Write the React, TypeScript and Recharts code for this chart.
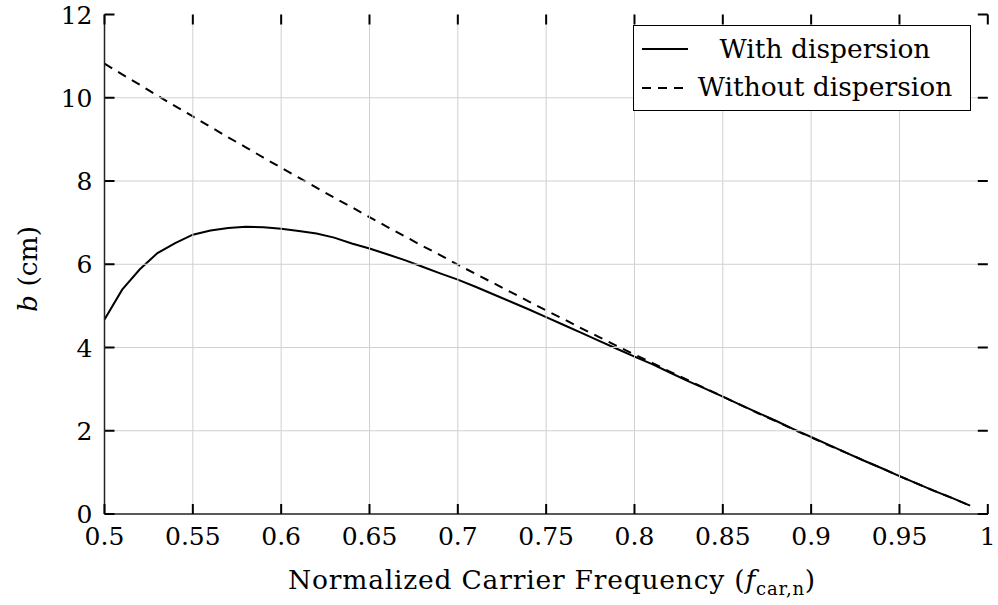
import React from 'react';
import {
  LineChart,
  Line,
  XAxis,
  YAxis,
} from 'recharts';

const freq = [
  0.5, 0.51, 0.52, 0.53, 0.54, 0.55, 0.56, 0.57, 0.58, 0.59,
  0.6, 0.61, 0.62, 0.63, 0.64, 0.65, 0.66, 0.67, 0.68, 0.69,
  0.7, 0.71, 0.72, 0.73, 0.74, 0.75, 0.76, 0.77, 0.78, 0.79,
  0.8, 0.81, 0.82, 0.83, 0.84, 0.85, 0.86, 0.87, 0.88, 0.89,
  0.9, 0.91, 0.92, 0.93, 0.94, 0.95, 0.96, 0.97, 0.98, 0.99,
];

const withDispersion = [
  4.67, 5.39, 5.88, 6.27, 6.51, 6.71, 6.81, 6.87, 6.9, 6.89,
  6.85, 6.8, 6.74, 6.64, 6.5, 6.38, 6.24, 6.1, 5.94, 5.78,
  5.63, 5.46, 5.28, 5.1, 4.92, 4.73, 4.54, 4.35, 4.16, 3.97,
  3.78, 3.6, 3.4, 3.2, 3.01, 2.82, 2.62, 2.43, 2.24, 2.04,
  1.85, 1.66, 1.47, 1.28, 1.1, 0.91, 0.73, 0.55, 0.38, 0.2,
];

const withoutDispersion = [
  10.82, 10.56, 10.31, 10.05, 9.8, 9.55, 9.3, 9.05, 8.81, 8.56,
  8.32, 8.08, 7.84, 7.6, 7.37, 7.13, 6.9, 6.67, 6.44, 6.22,
  5.99, 5.77, 5.55, 5.33, 5.11, 4.89, 4.68, 4.46, 4.25, 4.04,
  3.83, 3.63, 3.42, 3.22, 3.02, 2.82, 2.62, 2.42, 2.23, 2.03,
  1.84, 1.65, 1.47, 1.28, 1.1, 0.91, 0.73, 0.55, 0.38, 0.2,
];

const xTicks = [0.5, 0.55, 0.6, 0.65, 0.7, 0.75, 0.8, 0.85, 0.9, 0.95, 1];
const xTickLabels = ['0.5', '0.55', '0.6', '0.65', '0.7', '0.75', '0.8', '0.85', '0.9', '0.95', '1'];
const yTicks = [0, 2, 4, 6, 8, 10, 12];

const data = freq.map((f, i) => ({
  f,
  with: withDispersion[i],
  without: withoutDispersion[i],
}));

const FONT = 'DejaVu Serif, Liberation Serif, serif';
const FS = 25;
const LABEL_FS = 26.5;
const TICK_LEN = 10;
const TICK_W = 2;
const TICK_C = '#000';
const GRID = '#d0d0d0';

// plot box, set by the chart margins below
const M_TOP = 14.5;
const M_RIGHT = 10.2;
const Y_W = 104.5;
const X_H = 91;
const W = 998;
const H = 605;
const PLOT_W = W - Y_W - M_RIGHT;
const PLOT_H = H - M_TOP - X_H;

// bottom axis: vertical grid line, inward ticks at bottom and top, label
const BottomTick = (props: any) => {
  const { x, y, payload } = props;
  const idx = xTicks.indexOf(payload.value);
  const edge = idx === 0 || idx === xTicks.length - 1;
  const top = y - PLOT_H;
  return (
    <g>
      {!edge && <line x1={x} y1={y} x2={x} y2={top} stroke={GRID} strokeWidth={1} />}
      <line x1={x} y1={y} x2={x} y2={y - TICK_LEN} stroke={TICK_C} strokeWidth={TICK_W} />
      <line x1={x} y1={top} x2={x} y2={top + TICK_LEN} stroke={TICK_C} strokeWidth={TICK_W} />
      <text x={x} y={y + 31} textAnchor="middle" fontFamily={FONT} fontSize={FS} fill="#000">
        {idx >= 0 ? xTickLabels[idx] : payload.value}
      </text>
    </g>
  );
};

// left axis: horizontal grid line, inward ticks at left and right, label
const LeftTick = (props: any) => {
  const { x, y, payload } = props;
  const edge = payload.value === yTicks[0] || payload.value === yTicks[yTicks.length - 1];
  const right = x + PLOT_W;
  return (
    <g>
      {!edge && <line x1={x} y1={y} x2={right} y2={y} stroke={GRID} strokeWidth={1} />}
      <line x1={x} y1={y} x2={x + TICK_LEN} y2={y} stroke={TICK_C} strokeWidth={TICK_W} />
      <line x1={right} y1={y} x2={right - TICK_LEN} y2={y} stroke={TICK_C} strokeWidth={TICK_W} />
      <text x={x - 12} y={y + 9} textAnchor="end" fontFamily={FONT} fontSize={FS} fill="#000">
        {payload.value}
      </text>
    </g>
  );
};

export default function App() {
  return (
    <div style={{ position: 'absolute', left: 0, top: 0, background: '#fff' }}>
      <LineChart
        width={W}
        height={H}
        data={data}
        margin={{ top: M_TOP, right: M_RIGHT, bottom: 0, left: 0 }}
      >
        <YAxis
          type="number"
          domain={[0, 12]}
          ticks={yTicks}
          interval={0}
          width={Y_W}
          tickSize={0}
          tickMargin={0}
          tickLine={false}
          axisLine={{ stroke: '#222', strokeWidth: 1.5 }}
          tick={<LeftTick />}
        />
        <XAxis
          dataKey="f"
          type="number"
          domain={[0.5, 1]}
          ticks={xTicks}
          interval={0}
          height={X_H}
          tickSize={0}
          tickMargin={0}
          tickLine={false}
          axisLine={{ stroke: '#222', strokeWidth: 1.5 }}
          tick={<BottomTick />}
        />
        <XAxis
          xAxisId="top"
          orientation="top"
          dataKey="f"
          type="number"
          domain={[0.5, 1]}
          height={0}
          tick={false}
          tickLine={false}
          axisLine={{ stroke: '#222', strokeWidth: 1.5 }}
        />
        <YAxis
          yAxisId="right"
          orientation="right"
          type="number"
          domain={[0, 12]}
          width={0}
          tick={false}
          tickLine={false}
          axisLine={{ stroke: '#222', strokeWidth: 1.5 }}
        />
        <Line
          dataKey="without"
          type="linear"
          stroke="#000"
          strokeWidth={2}
          strokeDasharray="9 7"
          dot={false}
          activeDot={false}
          isAnimationActive={false}
        />
        <Line
          dataKey="with"
          type="linear"
          stroke="#000"
          strokeWidth={2}
          dot={false}
          activeDot={false}
          isAnimationActive={false}
        />
      </LineChart>
      <svg width={W} height={H} style={{ position: 'absolute', left: 0, top: 0, pointerEvents: 'none' }}>
        <g transform="translate(633, 25)">
          <rect x={0.5} y={0.5} width={337} height={85} fill="#fff" stroke="#000" strokeWidth={1} />
          <line x1={9} y1={24} x2={55} y2={24} stroke="#000" strokeWidth={2} />
          <text x={192} y={33} textAnchor="middle" fontFamily={FONT} fontSize={LABEL_FS} fill="#000">
            With dispersion
          </text>
          <line x1={9} y1={63} x2={50} y2={63} stroke="#000" strokeWidth={2} strokeDasharray="9 7" />
          <text x={192} y={71} textAnchor="middle" fontFamily={FONT} fontSize={LABEL_FS} fill="#000">
            Without dispersion
          </text>
        </g>
        <text
          transform="translate(37, 269) rotate(-90)"
          textAnchor="middle"
          fontFamily={FONT}
          fontSize={LABEL_FS}
          fill="#000"
        >
          <tspan fontStyle="italic">b</tspan> (cm)
        </text>
        <text x={552} y={589} textAnchor="middle" fontFamily={FONT} fontSize={LABEL_FS} letterSpacing={0.8} fill="#000">
          Normalized Carrier Frequency (<tspan fontStyle="italic">f</tspan>
          <tspan fontSize={18} dy={6}>car,n</tspan>
          <tspan dy={-6}>)</tspan>
        </text>
      </svg>
    </div>
  );
}
